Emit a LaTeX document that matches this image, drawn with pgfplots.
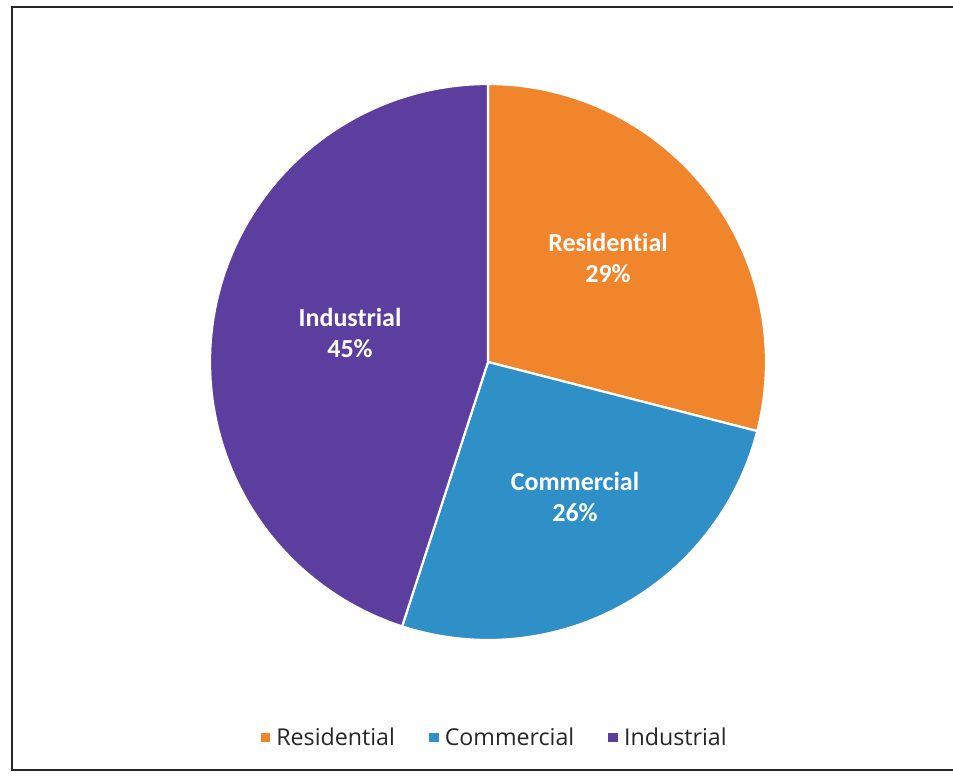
\documentclass[border=0pt]{standalone}
\usepackage{pgfplots}
\pgfplotsset{compat=1.18}
\usepackage{fontspec}
\setmainfont{Carlito}[Ligatures=NoCommon]
\newfontfamily\legfont{Open Sans}
\definecolor{resC}{HTML}{F0852B}
\definecolor{comC}{HTML}{2F8FC7}
\definecolor{indC}{HTML}{5C3E9E}
% shares in percent
\def\pRes{29}\def\pCom{26}\def\pInd{45}
\pgfmathsetmacro{\aA}{90}
\pgfmathsetmacro{\aB}{90-3.6*\pRes}
\pgfmathsetmacro{\aC}{\aB-3.6*\pCom}
\pgfmathsetmacro{\aD}{\aC-3.6*\pInd}
\begin{document}
\begin{tikzpicture}
\begin{axis}[
  x=0.5pt, y=0.5pt, xmin=0, xmax=953, ymin=0, ymax=776,
  hide axis, clip=false,
  legend columns=3,
  legend style={draw=none, fill=none, at={(0.519,0.049)}, anchor=center,
    font=\legfont\fontsize{11.6}{13}\selectfont, text=black!85,
    /tikz/every even column/.append style={column sep=14pt}},
  legend image code/.code={\fill[#1] (0.6pt,-2.7pt) rectangle (6.4pt,3pt);},
]
\addplot[fill=resC, draw=white, line width=1.1pt, domain=\aB:\aA, samples=90]
  ({488+278*cos(x)}, {414+278*sin(x)}) -- (axis cs:488,414) -- cycle;
\addplot[fill=comC, draw=white, line width=1.1pt, domain=\aC:\aB, samples=90]
  ({488+278*cos(x)}, {414+278*sin(x)}) -- (axis cs:488,414) -- cycle;
\addplot[fill=indC, draw=white, line width=1.1pt, domain=\aD:\aC, samples=120]
  ({488+278*cos(x)}, {414+278*sin(x)}) -- (axis cs:488,414) -- cycle;
\addlegendimage{fill=resC}\addlegendentry{Residential}
\addlegendimage{fill=comC}\addlegendentry{Commercial}
\addlegendimage{fill=indC}\addlegendentry{Industrial}
\node[white, font=\bfseries\fontsize{13}{15.5}\selectfont, align=center] at (axis cs:608,518) {Residential\\\pRes\%};
\node[white, font=\bfseries\fontsize{13}{15.5}\selectfont, align=center] at (axis cs:350,443) {Industrial\\\pInd\%};
\node[white, font=\bfseries\fontsize{13}{15.5}\selectfont, align=center] at (axis cs:575,279) {Commercial\\\pCom\%};
\draw[black!85, line width=1pt] (axis cs:960,769) -- (axis cs:12,769) -- (axis cs:12,6) -- (axis cs:960,6);
\coordinate (bl) at (axis cs:0,0);
\coordinate (tr) at (axis cs:953,776);
\end{axis}
\pgfresetboundingbox
\path (bl) rectangle (tr);
\end{tikzpicture}
\end{document}
